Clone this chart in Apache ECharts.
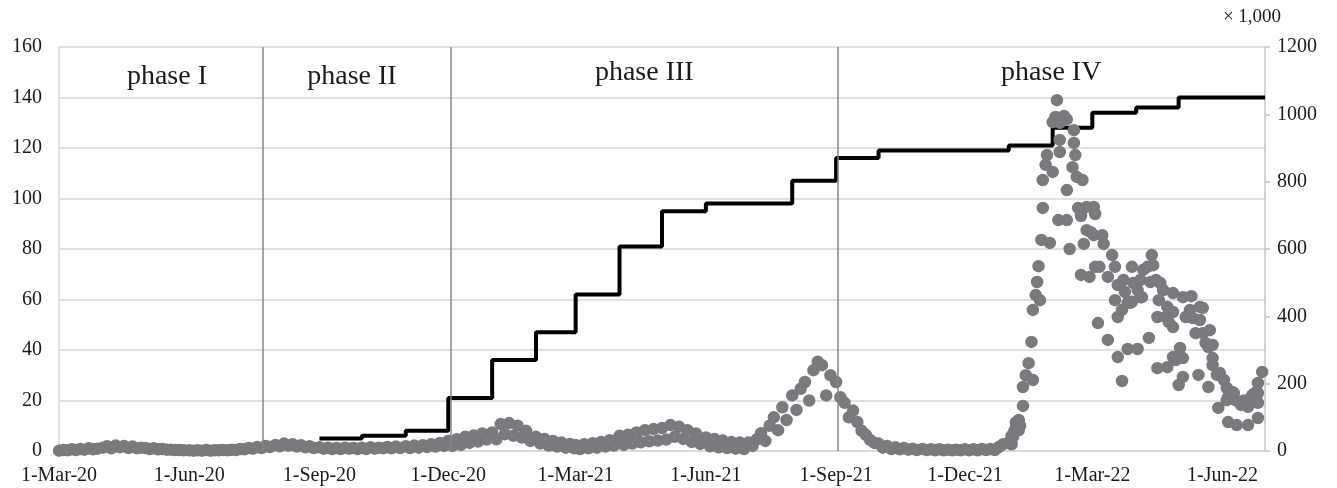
<!DOCTYPE html>
<html>
<head>
<meta charset="utf-8">
<script src="https://cdn.jsdelivr.net/npm/echarts@6/dist/echarts.min.js"></script>
<style>html,body{margin:0;padding:0;background:#fff}#c{width:1337px;height:488px}</style>
</head>
<body>
<div id="c"></div>
<script>
// ---------------- DATA ----------------
// x-axis tick dates (labels shown as d-MMM-yy)
const xTickDates = ['2020-03-01','2020-06-01','2020-09-01','2020-12-01','2021-03-01','2021-06-01','2021-09-01','2021-12-01','2022-03-01','2022-06-01'];
const xMin = '2020-03-01';
const xMax = '2022-07-01';

// phases
const phaseNames  = ['phase I','phase II','phase III','phase IV'];
const phaseStarts = ['2020-03-01','2020-07-23','2020-12-03','2021-09-02'];
const phaseEnds   = ['2020-07-23','2020-12-03','2021-09-02','2022-07-01'];
const phaseBounds = ['2020-07-23','2020-12-03','2021-09-02'];

// step line (left axis)
const stepDates  = ['2020-09-01','2020-10-01','2020-11-01','2020-12-01','2021-01-01','2021-02-01','2021-03-01','2021-04-01','2021-05-01','2021-06-01','2021-08-01','2021-09-01','2021-10-01','2022-01-01','2022-02-01','2022-03-01','2022-04-01','2022-05-01','2022-07-01'];
const stepValues = [5,6,8,21,36,47,62,81,95,98,107,116,119,121,128,134,136,140,140];

// daily cases (x 1,000, right axis) – readings every 3 days (day 1,4,...,28) of each month
const bandMonths = ['2020-03','2020-04','2020-05','2020-06','2020-07','2020-08','2020-09','2020-10','2020-11','2020-12',
                    '2021-01','2021-02','2021-03','2021-04','2021-05','2021-06','2021-07','2021-08','2021-09','2021-10','2021-11','2021-12'];
const bandValues = [
  [1,3,2,5,3,6,4,8,5,7],
  [10,14,8,16,11,15,9,13,8,10],
  [9,6,8,5,6,4,4,3,3,2],
  [2,1,2,1,3,1,2,2,3,2],
  [4,3,6,5,9,7,12,9,15,12],
  [18,14,22,16,20,13,17,11,14,9],
  [11,7,10,6,9,6,10,7,9,6],
  [10,6,11,7,10,8,12,8,13,9],
  [14,9,16,10,17,12,20,13,24,15],
  [30,15,35,18,42,24,46,28,52,34],
  [55,35,80,50,83,45,75,40,60,30],
  [42,22,36,16,30,13,25,10,21,8],
  [18,6,20,8,23,10,27,13,32,16],
  [45,18,48,22,55,26,62,29,65,31],
  [68,34,77,42,72,36,62,27,52,21],
  [40,14,36,11,31,9,27,7,25,6],
  [25,15,35,53,30,75,100,62,130,92],
  [165,122,185,205,150,240,265,255,165,225],
  [205,160,143,100,120,86,60,48,33,24],
  [22,10,15,6,11,5,9,4,7,3],
  [6,3,5,2,5,2,4,2,4,2],
  [5,2,5,2,6,3,6,3,12,20]
];

// 2022 individual readings: day offset from 1 Jan 2022, value (x 1,000)
const omicronDays = [1,2,2,3,4,5,5,6,7,7,8,10,10,12,14,17,16,17,19,20,21,22,23,24,24,26,27,29,31,31,33,34,35,36,39,41,36,36,35,41,41,43,46,46,47,45,48,52,49,51,55,60,61,55,58,60,66,67,53,51,57,73,63,70,77,80,61,64,70,75,77,75,77,81,82,84,80,84,91,87,88,91,93,87,93,95,98,101,102,99,105,112,104,107,109,116,106,105,111,112,116,116,113,116,118,121,120,123,123,123,125,128,130,132,135,135,137,134,141,139,141,144,144,147,148,152,154,155,158,160,164,169,171,174,176,179,176,155,161,169,176,129,137,144,142,149,154,159,166,172,176,86,94,100,109];
const omicronVals = [30,20,45,42,60,70,85,86,92,62,75,134,190,225,261,211,324,419,463,502,549,448,627,722,805,850,879,618,829,977,992,1042,989,975,995,985,888,924,686,686,775,600,953,915,879,843,814,805,722,698,725,725,704,656,650,641,641,615,615,523,517,582,380,330,279,208,547,547,517,547,493,448,398,508,472,440,419,303,303,547,499,478,457,443,508,538,547,582,552,336,246,249,508,499,478,469,448,398,398,428,413,368,383,279,270,306,196,220,276,457,398,419,395,350,428,389,350,226,190,321,309,276,255,226,128,211,187,160,175,151,137,131,157,172,202,235,143,86,77,77,98,460,425,315,359,232,151,172,150,166,172,440,457,502,478];

// ---------------- BUILD ----------------
const MON = ['Jan','Feb','Mar','Apr','May','Jun','Jul','Aug','Sep','Oct','Nov','Dec'];
function ts(s){ const p = s.split('-').map(Number); return new Date(p[0], p[1]-1, p[2]||1).getTime(); }

const stepData = stepDates.map((d,i)=>[ts(d), stepValues[i]]);
const scatterData = [];
bandMonths.forEach((m,i)=>{
  const p = m.split('-').map(Number);
  bandValues[i].forEach((v,j)=>{ scatterData.push([new Date(p[0], p[1]-1, 1+3*j).getTime(), v]); });
});
omicronDays.forEach((d,i)=>{ scatterData.push([new Date(2022, 0, 1+d).getTime(), omicronVals[i]]); });

const SERIF = '"Liberation Serif","Times New Roman",serif';
const TXT = '#1a1a1a';
const phaseLabelDist = [16,16,12,12];
const phaseLabelDx = [6,-5,0,0];

const chart = echarts.init(document.getElementById('c'), null, {renderer:'canvas'});
chart.setOption({
  animation:false,
  backgroundColor:'#fff',
  grid:{left:59, right:72, top:47, bottom:37, containLabel:false},
  xAxis:{
    type:'value', min:ts(xMin), max:ts(xMax), scale:true,
    axisLine:{show:true, onZero:false, lineStyle:{color:'#d6d6d6', width:1.5}},
    axisTick:{show:false},
    splitLine:{show:false},
    axisLabel:{
      customValues: xTickDates.map(ts),
      margin:15, color:TXT, fontFamily:SERIF, fontSize:20,
      formatter:(v)=>{ const d=new Date(v); return d.getDate()+'-'+MON[d.getMonth()]+'-'+String(d.getFullYear()).slice(2); }
    }
  },
  yAxis:[
    {type:'value', min:0, max:160, interval:20, position:'left',
     axisLine:{show:true, lineStyle:{color:'#d6d6d6', width:1.5}},
     axisTick:{show:false},
     splitLine:{show:true, lineStyle:{color:'#d6d6d6', width:1.5}},
     axisLabel:{margin:17, color:TXT, fontFamily:SERIF, fontSize:20}},
    {type:'value', min:0, max:1200, interval:200, position:'right',
     name:'× 1,000', nameLocation:'end', nameGap:20,
     nameTextStyle:{color:TXT, fontFamily:SERIF, fontSize:19, align:'center', padding:[0,26,0,0]},
     axisLine:{show:true, lineStyle:{color:'#c4c4c4', width:1.5}},
     axisTick:{show:true, inside:false, length:5, lineStyle:{color:'#c4c4c4', width:1.5}},
     splitLine:{show:false},
     axisLabel:{margin:12, color:TXT, fontFamily:SERIF, fontSize:20, formatter:(v)=>String(v)}}
  ],
  series:[
    {type:'line', name:'step', yAxisIndex:0, step:'end', data:stepData, showSymbol:false, symbol:'none',
     lineStyle:{color:'#000', width:4}, z:3,
     markLine:{silent:true, symbol:['none','none'], label:{show:false},
       lineStyle:{color:'#858585', width:1.5, type:'solid'},
       data: phaseBounds.map(d=>({xAxis: ts(d)}))},
     markArea:{silent:true, itemStyle:{color:'rgba(0,0,0,0)'},
       label:{show:true, position:'insideTop', color:TXT, fontFamily:SERIF, fontSize:28},
       data: phaseNames.map((n,i)=>[{name:n, xAxis:ts(phaseStarts[i]), label:{distance:phaseLabelDist[i], offset:[phaseLabelDx[i],0]}},{xAxis:ts(phaseEnds[i])}])}
    },
    {type:'scatter', name:'cases', yAxisIndex:1, data:scatterData, symbol:'circle', symbolSize:6.5,
     itemStyle:{color:'#ffffff', borderColor:'#7a7a7e', borderWidth:6, opacity:1}, z:4}
  ]
});
</script>
</body>
</html>
